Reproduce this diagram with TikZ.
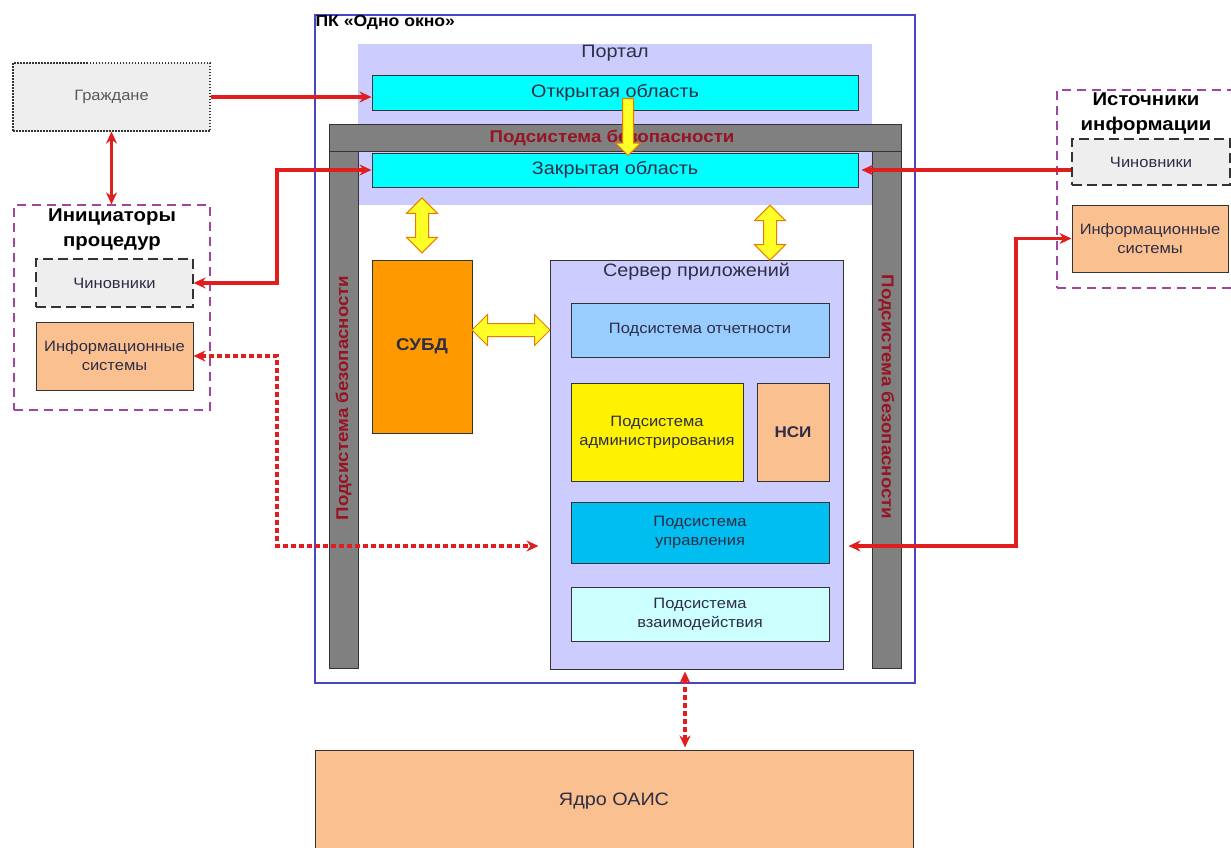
\documentclass[tikz,border=0pt]{standalone}
\usepackage{fontspec}
\setmainfont{Liberation Sans}[FakeStretch=1.1]
\usetikzlibrary{arrows.meta,shapes.arrows,calc}

\definecolor{frameblue}{RGB}{70,70,200}
\definecolor{lavender}{RGB}{204,204,255}
\definecolor{aqua}{RGB}{0,255,255}
\definecolor{secgray}{RGB}{128,128,128}
\definecolor{secred}{RGB}{150,20,35}
\definecolor{dbmsorange}{RGB}{255,153,0}
\definecolor{repblue}{RGB}{153,204,255}
\definecolor{peach}{RGB}{250,192,144}
\definecolor{ctlblue}{RGB}{0,190,240}
\definecolor{intcyan}{RGB}{204,255,255}
\definecolor{linkred}{RGB}{225,30,30}
\definecolor{grouppurple}{RGB}{160,70,160}
\definecolor{paleg}{RGB}{238,238,238}
\definecolor{boxtext}{RGB}{45,45,70}
\definecolor{arrowedge}{RGB}{235,120,0}
\definecolor{arrowfill}{RGB}{255,255,40}

\tikzset{
  blk/.style={draw=black!80, line width=1pt, text=boxtext, align=center, inner sep=0pt,
    font=\fontsize{15}{19}\selectfont},
  bigtxt/.style={font=\fontsize{18}{21}\selectfont},
  secbar/.style={draw=black!80, line width=1pt, fill=secgray},
  sectext/.style={text=secred, inner sep=0pt, font=\bfseries\fontsize{17}{20}\selectfont},
  grpbox/.style={draw=grouppurple, line width=1.2pt, dash pattern=on 9pt off 6pt},
  grptitle/.style={align=center, inner sep=1pt, font=\bfseries\fontsize{18.5}{25}\selectfont},
  person/.style={blk, fill=paleg, line width=1.3pt, dash pattern=on 10pt off 5pt},
  redlink/.style={draw=linkred, line width=3.2pt, >={Stealth[length=12pt,width=11pt]}},
  reddash/.style={redlink, dash pattern=on 5pt off 3pt},
  fatarr/.style={draw=arrowedge, fill=arrowfill, line width=1pt, inner sep=6pt}
}

\begin{document}
\begin{tikzpicture}[x=1pt,y=-1pt]
\useasboundingbox (0,0) rectangle (1231,847);

% PK frame
\node[draw=frameblue, line width=1.3pt, minimum width=600pt, minimum height=668pt] (frame) at (615,349) {};
\node[anchor=north west, inner sep=1pt, font=\bfseries\fontsize{16}{19}\selectfont] (frameTitle) at (frame.north west) {ПК «Одно окно»};

% portal
\node[fill=lavender, minimum width=514pt, minimum height=161pt] (portal) at (615,124.5) {};
\node[anchor=north, bigtxt, text=boxtext, inner sep=1pt] (portalTitle) at (portal.north) {Портал};
\node[blk, bigtxt, fill=aqua, minimum width=486pt, minimum height=35pt] (open) at (615,92.5) {Открытая область};
\node[blk, bigtxt, fill=aqua, minimum width=486pt, minimum height=34pt] (closed) at (615,170) {Закрытая область};

% security subsystem
\node[secbar, minimum width=29pt, minimum height=517pt] (secL) at (343.5,409.5) {};
\node[secbar, minimum width=29pt, minimum height=517pt] (secR) at (886.5,409.5) {};
\node[secbar, minimum width=572pt, minimum height=27pt] (secTop) at (615,137.5) {};
\node[sectext] (secTopText) at (612,137.5) {Подсистема безопасности};
\node[sectext, rotate=90] (secLText) at (343.5,398) {Подсистема безопасности};
\node[sectext, rotate=-90] (secRText) at (886.5,397) {Подсистема безопасности};

% DBMS and application server
\node[blk, fill=dbmsorange, minimum width=100pt, minimum height=173pt, font=\bfseries\fontsize{17}{20}\selectfont] (dbms) at (422,346.5) {СУБД};
\node[blk, fill=lavender, minimum width=293pt, minimum height=409pt] (server) at (696.5,464.5) {};
\node[anchor=north, bigtxt, text=boxtext, inner sep=1pt] (serverTitle) at ($(server.north)+(0,2)$) {Сервер приложений};
\node[blk, fill=repblue, minimum width=258pt, minimum height=54pt] (rep) at (700,330) {Подсистема отчетности};
\node[blk, fill=yellow, minimum width=172pt, minimum height=98pt] (adm) at (657,432) {Подсистема\\администрирования};
\node[blk, fill=peach, minimum width=72pt, minimum height=98pt, font=\bfseries\fontsize{15.5}{19}\selectfont] (nsi) at (793,432) {НСИ};
\node[blk, fill=ctlblue, minimum width=258pt, minimum height=61pt] (ctl) at (700,532.5) {Подсистема\\управления};
\node[blk, fill=intcyan, minimum width=258pt, minimum height=54pt] (inter) at (700,614) {Подсистема\\взаимодействия};

% core
\node[blk, bigtxt, fill=peach, minimum width=598pt, minimum height=102pt] (core) at (614,801) {Ядро ОАИС};

% left side
\node[blk, fill=paleg, text=black!65, line width=1.2pt, dash pattern=on 1.5pt off 1.5pt, minimum width=197pt, minimum height=68pt] (cit) at (111.5,97) {Граждане};
\node[grpbox, minimum width=196pt, minimum height=205pt] (initG) at (112,307.5) {};
\node[anchor=north, grptitle] (initTitle) at ($(initG.north)+(0,3)$) {Инициаторы\\процедур};
\node[person, minimum width=157pt, minimum height=48pt] (offL) at (114.5,283) {Чиновники};
\node[blk, fill=peach, minimum width=157pt, minimum height=68pt] (isL) at (114.5,356) {Информационные\\системы};

% right side
\node[grpbox, minimum width=178pt, minimum height=198pt] (srcG) at (1146,189) {};
\node[anchor=north, grptitle] (srcTitle) at ($(srcG.north)+(0,2)$) {Источники\\информации};
\node[person, minimum width=158pt, minimum height=46pt] (offR) at (1151,162) {Чиновники};
\node[blk, fill=peach, minimum width=156pt, minimum height=67pt] (isR) at (1150,238.5) {Информационные\\системы};

% bends and taps
\coordinate (kneeL) at (277,0);
\coordinate (kneeR) at (1016,0);
\coordinate (busY) at (0,546);
\coordinate (openTap) at (628,96);
\coordinate (srvTap) at (770,260);
\coordinate (dnTap) at (685,0);

% red links
\draw[redlink, ->] (cit.east) -- (cit.east -| open.west);
\draw[redlink, <->] (cit.south) -- (cit.south |- initG.north);
\draw[redlink, <->] (closed.west) -| (kneeL |- offL.east) -- (offL.east);
\draw[reddash, <->, shorten >=11pt] (isL.east) -| (kneeL |- busY) -- (server.west |- busY);
\draw[redlink, ->, shorten >=3pt] (offR.west |- closed.east) -- (closed.east);
\draw[redlink, <->, shorten >=5pt] (isR.west) -| (kneeR |- busY) -- (server.east |- busY);
\draw[reddash, <->, shorten <=2pt, shorten >=2pt] (dnTap |- server.south) -- (dnTap |- core.north);

% yellow block arrows
\node[fatarr, single arrow, inner sep=5pt, single arrow head extend=7pt, rotate=-90, minimum height=57pt] (openClosed) at ($(openTap)!0.5!(openTap |- closed.north)$) {};
\node[fatarr, double arrow, double arrow head extend=9pt, rotate=90, minimum height=55pt, xshift=7pt] (dbPortal) at ($(dbms.north)!0.5!(dbms.north |- portal.south)$) {};
\node[fatarr, double arrow, double arrow head extend=9pt, rotate=90, minimum height=55pt] (srvPortal) at ($(srvTap)!0.5!(srvTap |- portal.south)$) {};
\node[fatarr, double arrow, double arrow head extend=9pt, minimum height=78pt] (dbSrv) at ($(dbms.east |- rep)!0.5!(server.west |- rep)$) {};
\end{tikzpicture}
\end{document}
